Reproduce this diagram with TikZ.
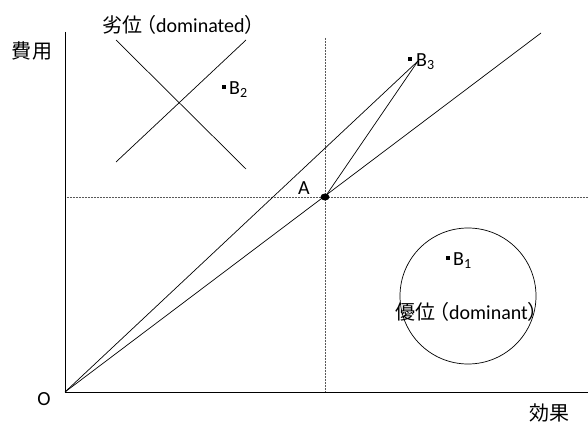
\documentclass[tikz,border=0pt]{standalone}
\usepackage{fontspec}
\setmainfont{Carlito}
\newfontfamily\cjk{Noto Sans CJK JP}
\begin{document}
\begin{tikzpicture}[x=1pt,y=-1pt,
  ln/.style={line width=0.7pt},
  dot/.style={densely dotted, line width=0.5pt, gray!70!black},
  lbl/.style={font=\fontsize{20}{24}\selectfont, inner sep=0pt},
  mk/.style={fill=black, minimum size=3.5pt, inner sep=0pt}]
\useasboundingbox (0,0) rectangle (588,425);
% key points
\coordinate (O) at (65,392);
\coordinate (Ytop) at (65,32);
\coordinate (Xend) at (588,392);
\coordinate (A) at (325,197);
\coordinate (B3) at (418,61);
\coordinate (Lend) at (541,33);
\coordinate (Vt) at (325,38);
\coordinate (Vb) at (325,392);
\coordinate (Hl) at (65,197);
\coordinate (Hr) at (588,197);
% dotted guides
\draw[dot] (Vt) -- (Vb);
\draw[dot] (Hl) -- (Hr);
% axes
\draw[ln] (Ytop) -- (O) -- (Xend);
% rays
\draw[ln] (O) -- (B3);
\draw[ln] (O) -- (Lend);
\draw[ln] (A) -- (B3);
\fill (A) ellipse (4.5pt and 3.5pt);
% cross
\coordinate (c1) at (116,40);
\coordinate (c2) at (246,169);
\coordinate (c3) at (246,40);
\coordinate (c4) at (116,162);
\draw[ln] (c1) -- (c2);
\draw[ln] (c3) -- (c4);
% circle
\node[draw, ln, circle, minimum size=136pt, inner sep=0pt] (circ) at (468,296) {};
% markers
\node[mk] (m3) at (410,59) {};
\node[mk] (m2) at (224,87) {};
\node[mk] (m1) at (448,258) {};
% labels
\node[lbl, anchor=west] (lB3) at (416,62) {B\textsubscript{3}};
\node[lbl, anchor=west] (lB2) at (229,90) {B\textsubscript{2}};
\node[lbl, anchor=west] (lB1) at (453,261) {B\textsubscript{1}};
\node[lbl] (lA) at (304,188) {A};
\node[lbl] (lO) at (44,399) {O};
\node[lbl] (ly) at (32,51) {\cjk 費用};
\node[lbl] (lx) at (549,413) {\cjk 効果};
\node[lbl, anchor=west] (ldom) at (102,25) {{\cjk 劣位\hspace{-0.3em}（}dominated{\cjk ）}};
\node[lbl, anchor=west] (ldmt) at (395,312) {{\cjk 優位\hspace{-0.3em}（}dominant{\cjk ）}};
\end{tikzpicture}
\end{document}
